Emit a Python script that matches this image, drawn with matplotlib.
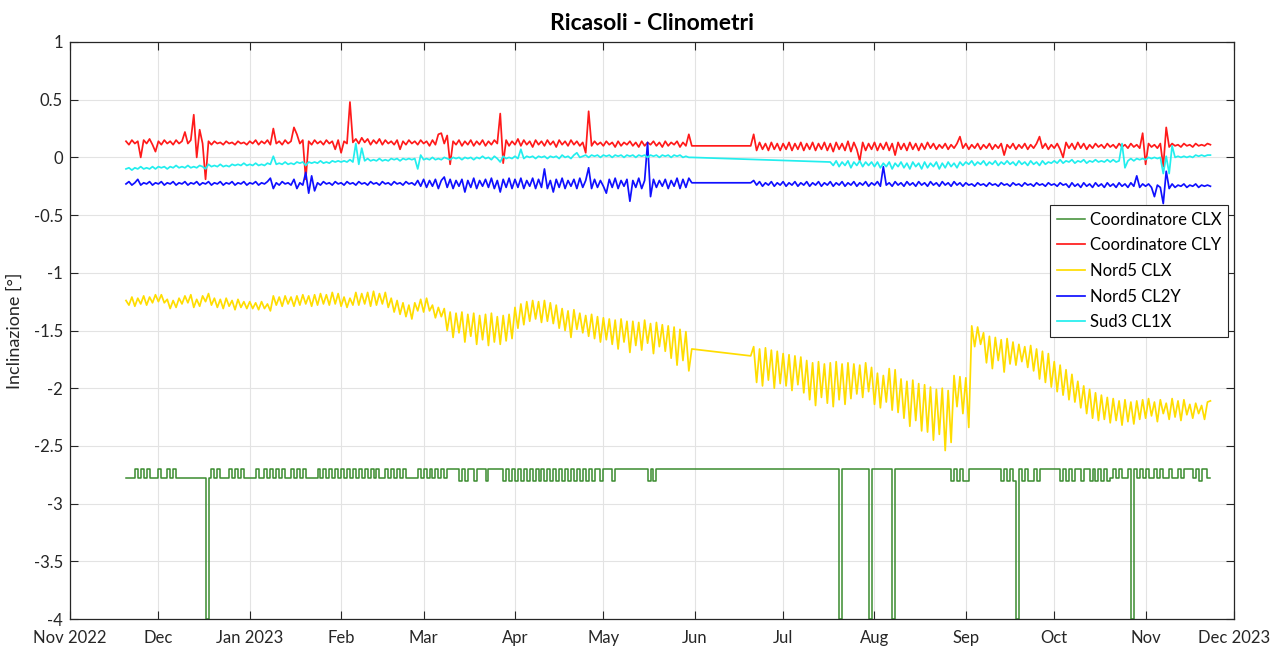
import numpy as np
import pandas as pd
import matplotlib
matplotlib.use('Agg')
import matplotlib.pyplot as plt

plt.rcParams['font.family'] = ['Lato', 'DejaVu Sans']
plt.rcParams['axes.unicode_minus'] = False

title = 'Ricasoli - Clinometri'
ylabel = 'Inclinazione [°]'
series_names = ['Coordinatore CLX', 'Coordinatore CLY', 'Nord5 CLX', 'Nord5 CL2Y', 'Sud3 CL1X']
series_colors = ['#3a8c2f', '#ff1a1a', '#ffdd00', '#1010ff', '#22eeee']

xtick_dates = ['2022-11-01', '2022-12-01', '2023-01-01', '2023-02-01', '2023-03-01', '2023-04-01',
               '2023-05-01', '2023-06-01', '2023-07-01', '2023-08-01', '2023-09-01', '2023-10-01',
               '2023-11-01', '2023-12-01']
xtick_labels = ['Nov 2022', 'Dec', 'Jan 2023', 'Feb', 'Mar', 'Apr', 'May', 'Jun', 'Jul', 'Aug',
                'Sep', 'Oct', 'Nov', 'Dec 2023']
yticks = [-4, -3.5, -3, -2.5, -2, -1.5, -1, -0.5, 0, 0.5, 1]
ytick_labels = ['-4', '-3.5', '-3', '-2.5', '-2', '-1.5', '-1', '-0.5', '0', '0.5', '1']

# daily readings; segment 1 starts 2022-11-20, segment 2 after the data gap
seg1_start = '2022-11-20'
seg2_start = '2023-06-20'
cyan_seg2_start = '2023-07-17'

# Coordinatore CLX: daily state codes from 2022-11-20
green_start = '2022-11-20'
green_levels = {'L': -2.78, 'H': -2.70, 'B': -2.80, 'D': -4.0}
green_codes = (
    'LLLHLHLHLLL'                       # Nov
    'HLLHLHLLLLLLLLLLDLHLHLLLHLHLHLL'   # Dec
    'LLHLLHLHLHLHLLHLHLHLLLLHLHLHLHL'   # Jan
    'HLHLHLHLHLHLHLLHLHLHLHLLLLHL'      # Feb
    'HLHLHLHLHHHHBHBHHBHHHBHHHHHBHBH'   # Mar
    'BHBHBHBHBHBHBHBHBHBHBHBHBHBHHB'    # Apr
    'HHHBHHHHHHHHHHHBHBHHHHHHHHHHHHH'   # May
    'HHHHHHHHHHHHHHHHHHHHHHHHHHHHHH'    # Jun
    'HHHHHHHHHHHHHHHHHHHDHHHHHHHHHDH'   # Jul
    'HHHHHHDHHHHHHHHHHHHHHHHHHHBHBHB'   # Aug
    'BHHHHHHHHHHHBHBHBDHBHBBHBHHHHH'    # Sep
    'HHBHBHBHHBHHBHBHBHBLHLHLLHDHLHL'   # Oct
    'HLLHLHLLHLLHLHHHLHBHHLL'           # Nov
)

red_seg1 = [
    0.14, 0.11, 0.15, 0.12, 0.14, 0.00, 0.15, 0.12, 0.16, 0.11, 0.05,
    0.14, 0.11, 0.15, 0.12, 0.14, 0.11, 0.15, 0.12, 0.14, 0.22, 0.12, 0.15, 0.37, 0.00, 0.24, 0.12,
    -0.19, 0.14, 0.11, 0.14, 0.12, 0.13, 0.11, 0.14, 0.12, 0.13, 0.11, 0.14, 0.12, 0.13, 0.11,
    0.14, 0.12, 0.15, 0.11, 0.14, 0.12, 0.15, 0.11, 0.25, 0.12, 0.14, 0.11, 0.15, 0.12, 0.14, 0.26,
    0.20, 0.12, 0.15, -0.19, 0.14, 0.11, 0.15, 0.12, 0.14, 0.11, 0.15, 0.12, 0.14, 0.07, 0.15,
    0.04, 0.14, 0.12, 0.48, 0.13, 0.16, 0.12, 0.17, 0.13, 0.16, 0.11, 0.15, 0.12, 0.16, 0.11, 0.15,
    0.12, 0.14, 0.11, 0.15, 0.07, 0.14, 0.11, 0.15, 0.12, 0.14, 0.11, 0.15,
    0.12, 0.14, 0.10, 0.15, 0.11, 0.20, 0.21, 0.12, 0.19, -0.06, 0.14, 0.11, 0.15, 0.10, 0.14, 0.11,
    0.15, 0.10, 0.14, 0.11, 0.15, 0.10, 0.14, 0.11, 0.15, 0.12, 0.38, -0.05, 0.15, 0.10, 0.14,
    0.11, 0.16, 0.10, 0.15, 0.11, 0.14, 0.09, 0.15, 0.11, 0.14, 0.10, 0.15, 0.11, 0.14, 0.09, 0.15,
    0.11, 0.14, 0.10, 0.15, 0.11, 0.14, 0.10, 0.13, 0.04, 0.40, 0.10, 0.14, 0.11, 0.13,
    0.10, 0.14, 0.11, 0.13, 0.09, 0.14, 0.10, 0.13, 0.11, 0.14, 0.10, 0.13, 0.09, 0.14, 0.10, 0.13,
    0.11, 0.14, 0.10, 0.13, 0.09, 0.14, 0.10, 0.13, 0.11, 0.14, 0.09, 0.13, 0.10, 0.20, 0.10,
]
red_seg2 = [
    0.10, 0.20, 0.06, 0.13, 0.07, 0.12, 0.06, 0.13, 0.07, 0.12, 0.06,
    0.12, 0.07, 0.13, 0.06, 0.12, 0.07, 0.13, 0.06, 0.12, 0.07, 0.13, 0.06, 0.12, 0.07, 0.13, 0.06,
    0.12, 0.05, 0.13, 0.07, 0.12, 0.06, 0.14, 0.05, 0.13, 0.07, -0.03, 0.13, 0.06, 0.12, 0.07,
    0.13, 0.06, 0.12, 0.07, 0.13, 0.06, 0.12, 0.02, 0.13, 0.07, 0.12, 0.06, 0.13, 0.07, 0.12, 0.06,
    0.12, 0.07, 0.13, 0.08, 0.12, 0.07, 0.11, 0.08, 0.12, 0.07, 0.11, 0.08, 0.12, 0.18, 0.08,
    0.12, 0.07, 0.11, 0.08, 0.12, 0.07, 0.11, 0.08, 0.12, 0.07, 0.11, 0.08, 0.12, 0.02, 0.11, 0.08,
    0.12, 0.07, 0.11, 0.08, 0.12, 0.07, 0.11, 0.08, 0.12, 0.18, 0.08, 0.12, 0.07, 0.11,
    0.08, 0.12, 0.07, 0.00, 0.13, 0.08, 0.12, 0.07, 0.13, 0.08, 0.12, 0.07, 0.11, 0.08, 0.12, 0.09,
    0.11, 0.08, 0.12, 0.09, 0.11, 0.08, 0.12, 0.09, 0.11, 0.08, 0.12, 0.09, 0.11, 0.08, 0.21,
    -0.06, 0.12, 0.09, 0.11, 0.08, 0.12, -0.08, 0.26, 0.09, 0.12, 0.10, 0.11, 0.09, 0.12, 0.10, 0.11,
    0.09, 0.12, 0.10, 0.11, 0.10, 0.12, 0.11,
]

yellow_seg1 = [
    -1.24, -1.28, -1.21, -1.29, -1.22, -1.27, -1.20, -1.28, -1.21, -1.26, -1.19,
    -1.25, -1.19, -1.26, -1.23, -1.31, -1.24, -1.30, -1.22, -1.27, -1.20, -1.26, -1.19, -1.30, -1.23,
    -1.29, -1.20, -1.25, -1.18, -1.28, -1.22, -1.30, -1.23, -1.31, -1.22, -1.29, -1.24, -1.32, -1.23,
    -1.30, -1.25, -1.31,
    -1.25, -1.31, -1.26, -1.32, -1.25, -1.31, -1.27, -1.33, -1.20, -1.28, -1.21, -1.29, -1.20, -1.27,
    -1.21, -1.29, -1.20, -1.28, -1.19, -1.27, -1.20, -1.29, -1.19, -1.28, -1.18, -1.27, -1.19, -1.28,
    -1.17, -1.27, -1.18,
    -1.29, -1.21, -1.30, -1.22, -1.28, -1.17, -1.28, -1.18, -1.27, -1.17, -1.29, -1.16, -1.28, -1.18,
    -1.27, -1.17, -1.30, -1.22, -1.34, -1.24, -1.36, -1.26, -1.38, -1.28, -1.40, -1.26, -1.33, -1.23,
    -1.34, -1.22, -1.33, -1.28, -1.39, -1.30, -1.38, -1.31, -1.50, -1.34, -1.56, -1.35, -1.52, -1.34,
    -1.60, -1.36, -1.55, -1.35, -1.62, -1.37, -1.58, -1.36, -1.63, -1.35, -1.60, -1.38, -1.62, -1.37,
    -1.59, -1.36, -1.57,
    -1.30, -1.48, -1.27, -1.45, -1.25, -1.42, -1.24, -1.40, -1.25, -1.43, -1.24, -1.42, -1.26, -1.44,
    -1.28, -1.48, -1.31, -1.50, -1.33, -1.56, -1.32, -1.49, -1.35, -1.52, -1.37, -1.55, -1.36, -1.57,
    -1.38, -1.60,
    -1.39, -1.58, -1.40, -1.62, -1.41, -1.66, -1.40, -1.60, -1.42, -1.69, -1.42, -1.63, -1.43, -1.67,
    -1.41, -1.61, -1.44, -1.70, -1.43, -1.64, -1.45, -1.68, -1.46, -1.74, -1.47, -1.80, -1.49, -1.76,
    -1.51, -1.85, -1.66,
]
yellow_seg2 = [
    -1.72, -1.64, -1.95, -1.66, -1.98, -1.65, -1.93, -1.67, -2.00, -1.68, -1.96,
    -1.70, -1.98, -1.71, -2.02, -1.72, -1.97, -1.73, -2.04, -1.76, -2.10, -1.78, -2.15, -1.77, -2.08,
    -1.79, -2.13, -1.78, -2.16, -1.77, -2.10, -1.79, -2.14, -1.78, -2.09, -1.79, -2.05, -1.80, -2.08,
    -1.78, -2.03, -1.82,
    -2.14, -1.87, -2.17, -1.89, -2.12, -1.83, -2.19, -1.84, -2.21, -1.92, -2.26, -1.94, -2.33, -1.93,
    -2.28, -1.96, -2.37, -1.97, -2.38, -1.99, -2.45, -2.01, -2.40, -2.00, -2.54, -2.02, -2.47, -1.89,
    -2.16, -1.90, -2.22,
    -1.91, -2.34, -1.46, -1.64, -1.47, -1.62, -1.52, -1.78, -1.55, -1.83, -1.56, -1.76, -1.58, -1.86,
    -1.57, -1.79, -1.60, -1.80, -1.62, -1.77, -1.64, -1.82, -1.63, -1.85, -1.66, -1.92, -1.68, -1.95,
    -1.70, -1.99,
    -1.77, -2.03, -1.80, -2.06, -1.84, -2.10, -1.88, -2.12, -1.94, -2.17, -1.98, -2.22, -2.01, -2.26,
    -2.04, -2.28, -2.06, -2.27, -2.08, -2.30, -2.09, -2.28, -2.11, -2.32, -2.10, -2.29, -2.12, -2.31,
    -2.11, -2.27, -2.10,
    -2.26, -2.09, -2.24, -2.12, -2.29, -2.10, -2.22, -2.13, -2.27, -2.09, -2.25, -2.11, -2.28, -2.10,
    -2.23, -2.14, -2.26, -2.13, -2.22, -2.15, -2.27, -2.12, -2.11,
]

blue_seg1 = [
    -0.23, -0.21, -0.24, -0.22, -0.19, -0.24, -0.22, -0.23, -0.21, -0.24, -0.22,
    -0.23, -0.21, -0.24, -0.22, -0.23, -0.21, -0.24, -0.22, -0.23, -0.21, -0.24, -0.22, -0.23, -0.21,
    -0.24, -0.22, -0.23, -0.21, -0.24, -0.22, -0.23, -0.21, -0.24, -0.22, -0.23, -0.21, -0.24, -0.22,
    -0.23, -0.21, -0.24,
    -0.22, -0.23, -0.21, -0.24, -0.22, -0.23, -0.21, -0.18, -0.27, -0.22, -0.24, -0.21, -0.23, -0.22,
    -0.24, -0.19, -0.27, -0.22, -0.24, -0.13, -0.31, -0.16, -0.29, -0.22, -0.24, -0.21, -0.23, -0.22,
    -0.24, -0.21, -0.23,
    -0.22, -0.24, -0.21, -0.23, -0.22, -0.24, -0.21, -0.23, -0.22, -0.24, -0.21, -0.23, -0.22, -0.24,
    -0.21, -0.23, -0.22, -0.24, -0.21, -0.23, -0.22, -0.24, -0.21, -0.23, -0.22, -0.24, -0.20, -0.25,
    -0.19, -0.26, -0.20, -0.25, -0.19, -0.27, -0.20, -0.17, -0.26, -0.19, -0.27, -0.20, -0.25, -0.19,
    -0.30, -0.20, -0.26, -0.18, -0.27, -0.20, -0.25, -0.19, -0.26, -0.18, -0.27, -0.20, -0.30, -0.19,
    -0.26, -0.18, -0.27,
    -0.19, -0.26, -0.18, -0.27, -0.20, -0.25, -0.18, -0.27, -0.19, -0.26, -0.10, -0.27, -0.20, -0.30,
    -0.19, -0.26, -0.18, -0.27, -0.20, -0.25, -0.19, -0.27, -0.18, -0.26, -0.20, -0.09, -0.27, -0.19,
    -0.26, -0.20,
    -0.25, -0.31, -0.19, -0.26, -0.18, -0.27, -0.20, -0.25, -0.19, -0.38, -0.20, -0.26, -0.18, -0.27,
    -0.20, 0.13, -0.34, -0.19, -0.26, -0.20, -0.25, -0.19, -0.27, -0.20, -0.25, -0.18, -0.27, -0.19,
    -0.26, -0.18, -0.22,
]
blue_seg2 = [
    -0.22, -0.20, -0.24, -0.21, -0.25, -0.22, -0.24, -0.21, -0.25, -0.22, -0.24,
    -0.21, -0.25, -0.22, -0.24, -0.21, -0.25, -0.22, -0.24, -0.21, -0.25, -0.22, -0.24, -0.21, -0.25,
    -0.22, -0.24, -0.21, -0.25, -0.22, -0.24, -0.21, -0.25, -0.22, -0.24, -0.21, -0.25, -0.22, -0.24,
    -0.21, -0.25, -0.22,
    -0.24, -0.21, -0.25, -0.08, -0.24, -0.22, -0.25, -0.21, -0.24, -0.22, -0.25, -0.21, -0.24, -0.22,
    -0.25, -0.21, -0.24, -0.22, -0.25, -0.21, -0.24, -0.22, -0.25, -0.21, -0.24, -0.22, -0.25, -0.21,
    -0.24, -0.22, -0.25,
    -0.22, -0.24, -0.23, -0.25, -0.22, -0.24, -0.23, -0.25, -0.22, -0.24, -0.23, -0.25, -0.22, -0.24,
    -0.23, -0.25, -0.22, -0.24, -0.23, -0.25, -0.22, -0.24, -0.23, -0.25, -0.22, -0.24, -0.23, -0.25,
    -0.22, -0.24,
    -0.23, -0.25, -0.22, -0.24, -0.23, -0.26, -0.22, -0.25, -0.23, -0.26, -0.22, -0.25, -0.23, -0.26,
    -0.22, -0.25, -0.23, -0.26, -0.22, -0.25, -0.23, -0.26, -0.22, -0.25, -0.23, -0.26, -0.22, -0.25,
    -0.16, -0.26, -0.23,
    -0.25, -0.23, -0.26, -0.34, -0.24, -0.26, -0.40, -0.12, -0.27, -0.23, -0.26, -0.24, -0.25, -0.23,
    -0.26, -0.24, -0.25, -0.23, -0.26, -0.24, -0.25, -0.24, -0.25,
]

cyan_seg1 = [
    -0.10, -0.09, -0.11, -0.09, -0.10, -0.08, -0.10, -0.09, -0.10, -0.08, -0.10,
    -0.08, -0.09, -0.08, -0.10, -0.08, -0.09, -0.07, -0.09, -0.08, -0.09, -0.07, -0.09, -0.08, -0.09,
    -0.07, -0.08, -0.10, -0.06, -0.08, -0.07, -0.08, -0.06, -0.08, -0.07, -0.08, -0.06, -0.07, -0.06,
    -0.07, -0.05, -0.07,
    -0.06, -0.07, -0.05, -0.07, -0.06, -0.07, -0.05, -0.06, 0.01, -0.06, -0.05, -0.06, -0.04, -0.06,
    -0.05, -0.06, -0.04, -0.05, -0.04, -0.07, -0.04, -0.05, -0.04, -0.05, -0.03, -0.05, -0.04, -0.05,
    -0.03, -0.04, -0.03,
    -0.04, -0.03, -0.04, -0.02, -0.04, 0.12, -0.06, 0.08, -0.03, -0.01, -0.03, -0.02, -0.03, -0.01,
    -0.03, -0.02, -0.03, -0.01, -0.02, -0.01, -0.03, -0.01, -0.02, -0.01, -0.02, -0.01, -0.10, 0.02,
    -0.02, -0.01, -0.02, 0.00, -0.02, -0.01, -0.02, 0.00, -0.01, -0.02, 0.00, -0.01, 0.00, -0.02,
    0.00, -0.01, 0.00, -0.02, 0.00, -0.01, 0.01, -0.01, 0.00, -0.02, 0.01, -0.01, -0.04, 0.01,
    -0.01, 0.00, -0.01,
    0.01, -0.01, 0.07, -0.01, 0.01, 0.00, 0.01, -0.01, 0.01, 0.00, 0.01, -0.01, 0.01, 0.00,
    0.01, -0.01, 0.02, 0.00, 0.01, -0.01, 0.02, 0.04, 0.00, 0.01, 0.02, 0.00, 0.02, 0.01,
    0.02, 0.00,
    0.02, 0.01, 0.02, 0.00, 0.02, 0.01, 0.02, 0.00, 0.02, 0.01, 0.02, 0.00, 0.02, 0.01,
    0.02, 0.00, 0.02, 0.01, 0.02, 0.00, 0.02, 0.01, 0.02, 0.00, 0.02, 0.01, 0.02, 0.00,
    0.01, 0.00, 0.00,
]
cyan_seg2 = [
    -0.04, -0.07, -0.03, -0.08, -0.04, -0.07, -0.03, -0.09, -0.04, -0.07, -0.03, -0.08, -0.04, -0.07,
    -0.04,
    -0.08, -0.04, -0.09, -0.05, -0.08, -0.04, -0.10, -0.05, -0.08, -0.04, -0.09, -0.05, -0.10, -0.04,
    -0.08, -0.05, -0.10, -0.04, -0.09, -0.05, -0.08, -0.04, -0.10, -0.05, -0.09, -0.04, -0.08, -0.05,
    -0.09, -0.04, -0.07,
    -0.04, -0.06, -0.03, -0.07, -0.04, -0.06, -0.03, -0.07, -0.04, -0.06, -0.03, -0.07, -0.04, -0.06,
    -0.03, -0.06, -0.04, -0.07, -0.03, -0.06, -0.04, -0.07, -0.03, -0.06, -0.04, -0.07, -0.03, -0.06,
    -0.04, -0.05,
    -0.03, -0.05, -0.02, -0.05, -0.03, -0.04, -0.02, -0.05, -0.03, -0.04, -0.02, -0.05, -0.03, -0.04,
    -0.02, -0.04, -0.03, -0.04, -0.02, -0.04, -0.02, -0.04, -0.03, 0.12, -0.09, -0.03, -0.01, -0.03,
    -0.01, -0.02, -0.01,
    -0.02, 0.00, -0.01, 0.00, -0.01, 0.00, -0.14, 0.01, -0.14, 0.10, 0.00, 0.01, 0.00, 0.01,
    0.00, 0.01, 0.00, 0.02, 0.01, 0.02, 0.01, 0.02, 0.02,
]


def two_segments(v1, start1, v2, start2):
    d1 = pd.date_range(start1, periods=len(v1), freq='D')
    d2 = pd.date_range(start2, periods=len(v2), freq='D')
    return np.concatenate([d1.values, d2.values]), np.array(v1 + v2, dtype=float)


green_x = pd.date_range(green_start, periods=len(green_codes), freq='D').values
green_y = np.array([green_levels[c] for c in green_codes])
red_x, red_y = two_segments(red_seg1, seg1_start, red_seg2, seg2_start)
yel_x, yel_y = two_segments(yellow_seg1, seg1_start, yellow_seg2, seg2_start)
blue_x, blue_y = two_segments(blue_seg1, seg1_start, blue_seg2, seg2_start)
cyan_x, cyan_y = two_segments(cyan_seg1, seg1_start, cyan_seg2, cyan_seg2_start)

fig = plt.figure(figsize=(12.78, 6.46), dpi=100)
ax = fig.add_axes([70 / 1278, 1 - 619 / 646, (1234 - 70) / 1278, (619 - 42) / 646])

lw = 1.25
ax.plot(green_x, green_y, color=series_colors[0], lw=1.1, drawstyle='steps-post', label=series_names[0])
ax.plot(red_x, red_y, color=series_colors[1], lw=lw, label=series_names[1])
ax.plot(yel_x, yel_y, color=series_colors[2], lw=lw, label=series_names[2])
ax.plot(blue_x, blue_y, color=series_colors[3], lw=lw, label=series_names[3])
ax.plot(cyan_x, cyan_y, color=series_colors[4], lw=lw, label=series_names[4])

ax.set_xlim(np.datetime64(xtick_dates[0]), np.datetime64(xtick_dates[-1]))
ax.set_ylim(-4, 1)
ax.set_xticks([np.datetime64(d) for d in xtick_dates])
ax.set_xticklabels(xtick_labels)
ax.set_yticks(yticks)
ax.set_yticklabels(ytick_labels)

tick_color = '#262626'
ax.tick_params(axis='both', which='major', direction='in', length=6, width=0.8,
               top=True, right=True, labelsize=12, colors=tick_color, pad=5)
ax.tick_params(axis='x', pad=8)
for s in ax.spines.values():
    s.set_color('#262626')
    s.set_linewidth(0.9)
ax.grid(True, color='#e3e3e3', linewidth=0.8)
ax.set_axisbelow(True)

ax.set_title(title, fontsize=16.5, fontweight='bold', color='black', pad=9)
ax.set_ylabel(ylabel, fontsize=13, color=tick_color, labelpad=8)

leg = ax.legend(loc='upper right', bbox_to_anchor=((1228 - 70) / 1164, (619 - 205) / 577),
                fontsize=12, frameon=True, fancybox=False, framealpha=1, edgecolor='#262626',
                handlelength=1.7, handletextpad=0.3, borderpad=0.4, labelspacing=0.58,
                borderaxespad=0)
leg.get_frame().set_linewidth(0.8)

fig.savefig('out.png', dpi=100, facecolor='white')
